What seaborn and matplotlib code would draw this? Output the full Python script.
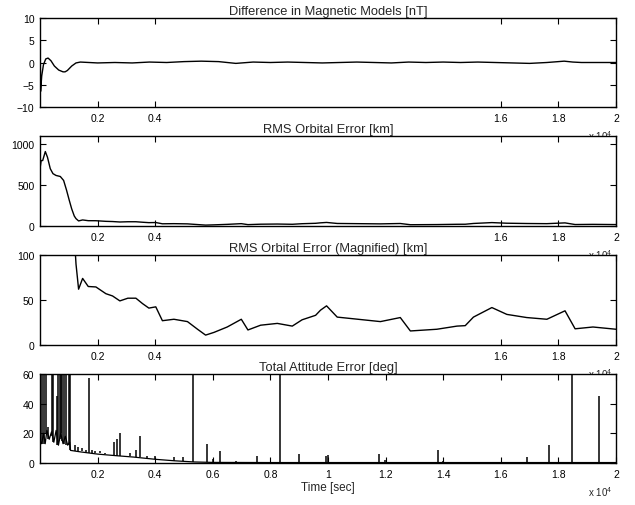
import numpy as np
import pandas as pd
import matplotlib
matplotlib.use('Agg')
import matplotlib.pyplot as plt
import seaborn as sns

# ── data (time in seconds) ─────────────────────────────────────────
mag_t = [0, 20, 60, 120, 200, 280, 380, 500, 650, 800, 870, 950, 1100, 1250, 1400,
         2000, 2600, 3200, 3800, 4400, 5000, 5600, 6200, 6800, 7400, 8000, 8600,
         9200, 9800, 10400, 11000, 11600, 12200, 12800, 13400, 14000, 14600,
         15200, 15800, 16400, 17000, 17600, 18200, 18500, 18800, 19400, 20000]
mag_nT = [7.9, -6.5, -3.0, -0.5, 0.8, 1.0, 0.4, -0.8, -1.7, -2.1, -2.1, -1.8, -0.8, -0.1, 0.1,
          -0.1, 0.0, -0.1, 0.1, 0.0, 0.2, 0.3, 0.2, -0.2, 0.1, 0.0, 0.1,
          0.0, -0.1, 0.0, 0.1, 0.0, -0.1, 0.1, 0.0, 0.1, 0.0,
          0.1, 0.0, -0.1, -0.2, 0.0, 0.3, 0.1, 0.0, 0.0, 0.0]

rms_t = [0, 40, 93, 185, 260, 357, 450, 555, 705, 820, 920, 1017, 1100, 1190, 1250,
         1340, 1480, 1675, 1941, 2288, 2519, 2773, 3050, 3330, 3560, 3780, 4020,
         4250, 4650, 5120, 5470, 5750, 6040, 6500, 6990, 7220, 7660, 8240, 8760,
         9100, 9570, 9740, 9950, 10320, 11820, 12510, 12860, 13780, 14480, 14765,
         15050, 15690, 16210, 16900, 17600, 18230, 18580, 19200, 20000]
rms_km = [700, 800, 800, 910, 840, 700, 640, 618, 605, 557, 440, 313, 210, 122, 90,
          62, 74, 65, 64.5, 57, 54.5, 49, 52, 52, 46, 41, 42.4,
          27, 28.6, 26, 17.5, 11, 14, 20, 28.6, 16.7, 22, 24, 21,
          28, 33, 38.7, 43.5, 31, 26, 30.5, 15.6, 17.5, 21, 21.5,
          31, 41.6, 34, 30.5, 28.6, 38, 18, 20, 17.5]

att_t = [0, 60, 120, 180, 240, 320, 400, 480, 560, 640, 720, 800, 880, 960, 1030,
         1060, 1400, 2000, 2600, 3250, 4000, 4660, 5350,
         6000, 8000, 10000, 12000, 14000, 16000, 18000, 20000]
att_deg = [15, 13, 20, 13, 22, 16, 21, 14, 22, 12, 20, 13, 18, 12, 14,
           8.5, 7.5, 6, 5, 4, 2.5, 1.5, 0.7,
           0.4, 0.3, 0.3, 0.3, 0.3, 0.3, 0.3, 0.3]

spike_t = [15, 70, 150, 200, 277, 400, 440, 590, 624, 700, 730, 780, 820, 900,
           1010, 1040, 1687, 1200, 1330, 1470, 1600, 1790, 1920, 2100,
           2250, 2576, 2668, 2773, 3120, 3350, 3477, 3700, 4000, 4660, 4950,
           5327, 5790, 6010, 6240, 6790, 7545, 8330, 9010, 9915, 9985, 11785,
           11990, 13820, 13990, 16900, 17690, 18485, 19420]
spike_lo = [13, 13, 13, 20, 16, 18, 14, 12, 12, 16, 20, 15, 13, 12,
            12, 9, 7, 8, 8, 8, 7, 7, 6.5, 6.5,
            6, 5, 5, 5, 4.5, 4, 4, 3.5, 3, 1.5, 1.2,
            0.7, 0.5, 0.4, 0.4, 0.3, 0.3, 0.3, 0.3, 0.3, 0.3, 0.3,
            0.3, 0.3, 0.3, 0.3, 0.3, 0.3, 0.3]
spike_hi = [75, 75, 75, 75, 24, 75, 75, 45, 60, 75, 75, 75, 75, 75,
            75, 75, 57, 12, 11, 10, 9, 9, 8, 8,
            7, 14, 16, 20, 7, 9, 18, 5, 5, 4, 4,
            75, 13, 3, 8, 1.5, 5, 75, 6, 5, 5.5, 6,
            2, 9, 1.5, 4, 12, 75, 45.5]

# ── style ──────────────────────────────────────────────────────────
sns.set_style('ticks')
plt.rcParams['font.family'] = ['Liberation Sans', 'DejaVu Sans']
plt.rcParams['mathtext.fontset'] = 'custom'
plt.rcParams['mathtext.rm'] = 'Liberation Sans'
plt.rcParams['mathtext.it'] = 'Liberation Sans'
plt.rcParams['axes.edgecolor'] = 'black'
plt.rcParams['axes.linewidth'] = 1.0

fig = plt.figure(figsize=(6.35, 5.06), dpi=100)
W, H = 635, 506
boxes = [(19, 108), (137, 227), (256, 346), (375, 464)]
axes = [fig.add_axes([40 / W, 1 - yb / H, 576 / W, (yb - yt) / H]) for yt, yb in boxes]

top_ticks = [2000, 4000, 16000, 18000, 20000]
top_labels = ['0.2', '0.4', '1.6', '1.8', '2']
all_ticks = list(range(2000, 20001, 2000))
all_labels = ['0.2', '0.4', '0.6', '0.8', '1', '1.2', '1.4', '1.6', '1.8', '2']

titles = ['Difference in Magnetic Models [nT]', 'RMS Orbital Error [km]',
          'RMS Orbital Error (Magnified) [km]', 'Total Attitude Error [deg]']
ylims = [(-10, 10), (0, 1100), (0, 100), (0, 60)]
yticks = [[-10, -5, 0, 5, 10], [0, 500, 1000], [0, 50, 100], [0, 20, 40, 60]]

mag = pd.DataFrame({'t': mag_t, 'v': mag_nT})
rms = pd.DataFrame({'t': rms_t, 'v': rms_km})
att = pd.DataFrame({'t': att_t, 'v': att_deg})

sns.lineplot(data=mag, x='t', y='v', ax=axes[0], color='black', lw=1.0, estimator=None)
sns.lineplot(data=rms, x='t', y='v', ax=axes[1], color='black', lw=1.0, estimator=None)
sns.lineplot(data=rms, x='t', y='v', ax=axes[2], color='black', lw=1.0, estimator=None)
sns.lineplot(data=att, x='t', y='v', ax=axes[3], color='black', lw=0.9, estimator=None)
axes[3].vlines(spike_t, spike_lo, spike_hi, color='black', lw=1.1)

for i, ax in enumerate(axes):
    ax.set_xlim(0, 20000)
    ax.set_ylim(*ylims[i])
    ax.set_yticks(yticks[i])
    if i < 3:
        ax.set_xticks(top_ticks)
        ax.set_xticklabels(top_labels)
    else:
        ax.set_xticks(all_ticks)
        ax.set_xticklabels(all_labels)
    ax.tick_params(direction='in', length=4, width=0.8, labelsize=7.5, pad=4,
                   top=True, right=True, colors='black')
    ax.set_xlabel('')
    ax.set_ylabel('')
    ax.set_title(titles[i], fontsize=9.3, pad=3)
    for s in ax.spines.values():
        s.set_visible(True)
    ax.text(0.993, -0.37, r'x 10$^4$', transform=ax.transAxes, ha='right',
            va='baseline', fontsize=7, clip_on=False)

axes[3].set_xlabel('Time [sec]', fontsize=8.5, labelpad=2)

fig.savefig('out.png', dpi=100)
